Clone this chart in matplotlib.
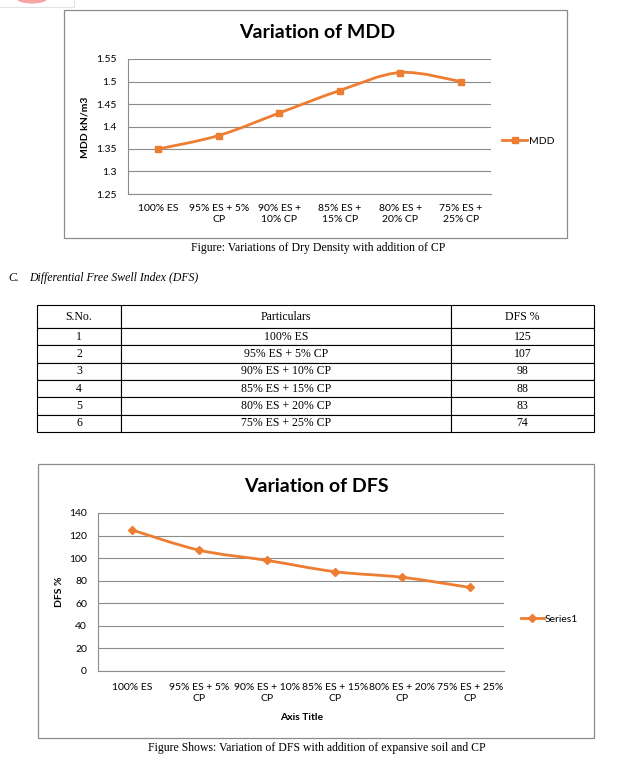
import matplotlib.pyplot as plt
from matplotlib.path import Path
from matplotlib.patches import PathPatch, Rectangle, Ellipse
from matplotlib.lines import Line2D

# data
mixes = ["100% ES", "95% ES + 5% CP", "90% ES + 10% CP", "85% ES + 15% CP",
         "80% ES + 20% CP", "75% ES + 25% CP"]
mdd = [1.35, 1.38, 1.43, 1.48, 1.52, 1.50]
dfs = [125, 107, 98, 88, 83, 74]
sno = [1, 2, 3, 4, 5, 6]

mdd_ticklabels = ["100% ES", "95% ES + 5%\nCP", "90% ES +\n10% CP", "85% ES +\n15% CP",
                  "80% ES +\n20% CP", "75% ES +\n25% CP"]
dfs_ticklabels = ["100% ES", "95% ES + 5%\nCP", "90% ES + 10%\nCP", "85% ES + 15%\nCP",
                  "80% ES + 20%\nCP", "75% ES + 25%\nCP"]
mdd_yticks = [1.25, 1.3, 1.35, 1.4, 1.45, 1.5, 1.55]
mdd_yticklabels = ["1.25", "1.3", "1.35", "1.4", "1.45", "1.5", "1.55"]
dfs_yticks = [0, 20, 40, 60, 80, 100, 120, 140]
table_header = ["S.No.", "Particulars", "DFS %"]

W, H = 620, 764
ORANGE = "#ED7D31"
GRID = "#8C8C8C"
SANS = "Lato"
SERIF = "Liberation Serif"


def fx(px):
    return px / W


def fy(py):
    return 1 - py / H


def ax_rect(l, t, r, b):
    return [fx(l), fy(b), (r - l) / W, (b - t) / H]


def smooth_path(xs, ys):
    # excel style smoothed line: cubic bezier segments through the points
    pts = list(zip(xs, ys))
    verts = [pts[0]]
    codes = [Path.MOVETO]
    n = len(pts)
    for i in range(n - 1):
        p0 = pts[i - 1] if i > 0 else pts[i]
        p1 = pts[i]
        p2 = pts[i + 1]
        p3 = pts[i + 2] if i + 2 < n else pts[i + 1]
        c1 = (p1[0] + (p2[0] - p0[0]) / 6, p1[1] + (p2[1] - p0[1]) / 6)
        c2 = (p2[0] - (p3[0] - p1[0]) / 6, p2[1] - (p3[1] - p1[1]) / 6)
        verts += [c1, c2, p2]
        codes += [Path.CURVE4] * 3
    return Path(verts, codes)


def style_axes(ax, ypad, xpad):
    for s in ["top", "right"]:
        ax.spines[s].set_visible(False)
    ax.spines["left"].set_color(GRID)
    ax.spines["bottom"].set_color(GRID)
    ax.spines["left"].set_linewidth(0.8)
    ax.spines["bottom"].set_linewidth(0.8)
    ax.yaxis.grid(True, color=GRID, linewidth=0.8)
    ax.set_axisbelow(True)
    ax.tick_params(axis="y", length=0, pad=ypad, labelsize=7.5)
    ax.tick_params(axis="x", length=0, pad=xpad, labelsize=7.5)
    for lab in ax.get_xticklabels() + ax.get_yticklabels():
        lab.set_fontfamily(SANS)


fig = plt.figure(figsize=(6.2, 7.64), dpi=100)

# bits of the page: frames round the charts and a scrap from above
fig.patches.append(Rectangle((fx(-2), fy(7)), fx(76), 9 / H, transform=fig.transFigure,
                             fill=False, edgecolor="#E3E3E3", linewidth=0.8))
fig.patches.append(Ellipse((fx(32), fy(-1)), fx(30), 9 / H, transform=fig.transFigure,
                           facecolor="#F6A5A5", edgecolor="none"))
fig.patches.append(Rectangle((fx(64), fy(238)), fx(567 - 64), (238 - 10) / H,
                             transform=fig.transFigure, fill=False, edgecolor=GRID, linewidth=0.9))
fig.patches.append(Rectangle((fx(38), fy(738)), fx(594 - 38), (738 - 464) / H,
                             transform=fig.transFigure, fill=False, edgecolor=GRID, linewidth=0.9))

# ---- MDD chart
ax1 = fig.add_axes(ax_rect(128, 59, 491, 194))
x = list(range(len(mixes)))
ax1.add_patch(PathPatch(smooth_path(x, mdd), fill=False, edgecolor=ORANGE, linewidth=2, capstyle="round"))
ax1.plot(x, mdd, linestyle="none", marker="s", markersize=4.5, color=ORANGE)
ax1.set_xlim(-0.5, len(mixes) - 0.5)
ax1.set_ylim(1.25, 1.55)
ax1.set_yticks(mdd_yticks)
ax1.set_yticklabels(mdd_yticklabels)
ax1.set_xticks(x)
ax1.set_xticklabels(mdd_ticklabels, linespacing=1.25)
style_axes(ax1, 8, 7.5)
fig.text(fx(317), fy(33), "Variation of MDD", ha="center", va="center",
         fontsize=14, fontweight="bold", family=SANS)
fig.text(fx(85), fy(127), "MDD kN/m3", rotation=90, ha="center", va="center",
         fontsize=7.5, fontweight="bold", family=SANS)
h1 = Line2D([], [], color=ORANGE, linewidth=2, marker="s", markersize=4.5)
ax1.legend([h1], ["MDD"], loc="center left", bbox_to_anchor=(fx(502), fy(141)),
           bbox_transform=fig.transFigure, frameon=False, handlelength=2.4,
           handletextpad=0.15, borderpad=0, borderaxespad=0,
           prop={"family": SANS, "size": 7.5})
fig.text(fx(318), fy(248), "Figure: Variations of Dry Density with addition of CP",
         ha="center", va="center", fontsize=8.5, family=SERIF)

# ---- section heading and table
fig.text(fx(8), fy(278), "C.", ha="left", va="center", fontsize=8.5, family=SERIF, style="italic")
fig.text(fx(29), fy(278), "Differential Free Swell Index (DFS)", ha="left", va="center",
         fontsize=8.5, family=SERIF, style="italic")

axt = fig.add_axes(ax_rect(37, 305, 594, 432))
axt.axis("off")
rows = [[str(s), m, str(v)] for s, m, v in zip(sno, mixes, dfs)]
col_w = [121 - 37, 451 - 121, 594 - 451]
tbl = axt.table(cellText=rows, colLabels=table_header, colWidths=col_w,
                cellLoc="center", bbox=[0, 0, 1, 1])
tbl.auto_set_font_size(False)
for (r, c), cell in tbl.get_celld().items():
    cell.set_height(23 if r == 0 else 17.3)
    cell.set_linewidth(0.8)
    cell.set_edgecolor("black")
    cell.get_text().set_fontsize(8.5)
    cell.get_text().set_fontfamily(SERIF)

# ---- DFS chart
ax2 = fig.add_axes(ax_rect(98, 513, 504, 671))
ax2.add_patch(PathPatch(smooth_path(x, dfs), fill=False, edgecolor=ORANGE, linewidth=2, capstyle="round"))
ax2.plot(x, dfs, linestyle="none", marker="D", markersize=4, color=ORANGE)
ax2.set_xlim(-0.5, len(mixes) - 0.5)
ax2.set_ylim(0, 140)
ax2.set_yticks(dfs_yticks)
ax2.set_xticks(x)
ax2.set_xticklabels(dfs_ticklabels, linespacing=1.25)
style_axes(ax2, 8, 9)
fig.text(fx(316), fy(487), "Variation of DFS", ha="center", va="center",
         fontsize=14, fontweight="bold", family=SANS)
fig.text(fx(60), fy(592), "DFS %", rotation=90, ha="center", va="center",
         fontsize=7.5, fontweight="bold", family=SANS)
fig.text(fx(302), fy(718), "Axis Title", ha="center", va="center",
         fontsize=7.5, fontweight="bold", family=SANS)
h2 = Line2D([], [], color=ORANGE, linewidth=2, marker="D", markersize=4)
ax2.legend([h2], ["Series1"], loc="center left", bbox_to_anchor=(fx(521), fy(619)),
           bbox_transform=fig.transFigure, frameon=False, handlelength=2.2,
           handletextpad=0.1, borderpad=0, borderaxespad=0,
           prop={"family": SANS, "size": 7.5})
fig.text(fx(317), fy(748), "Figure Shows: Variation of DFS with addition of expansive soil and CP",
         ha="center", va="center", fontsize=8.5, family=SERIF)

plt.savefig("out.png", dpi=100)
